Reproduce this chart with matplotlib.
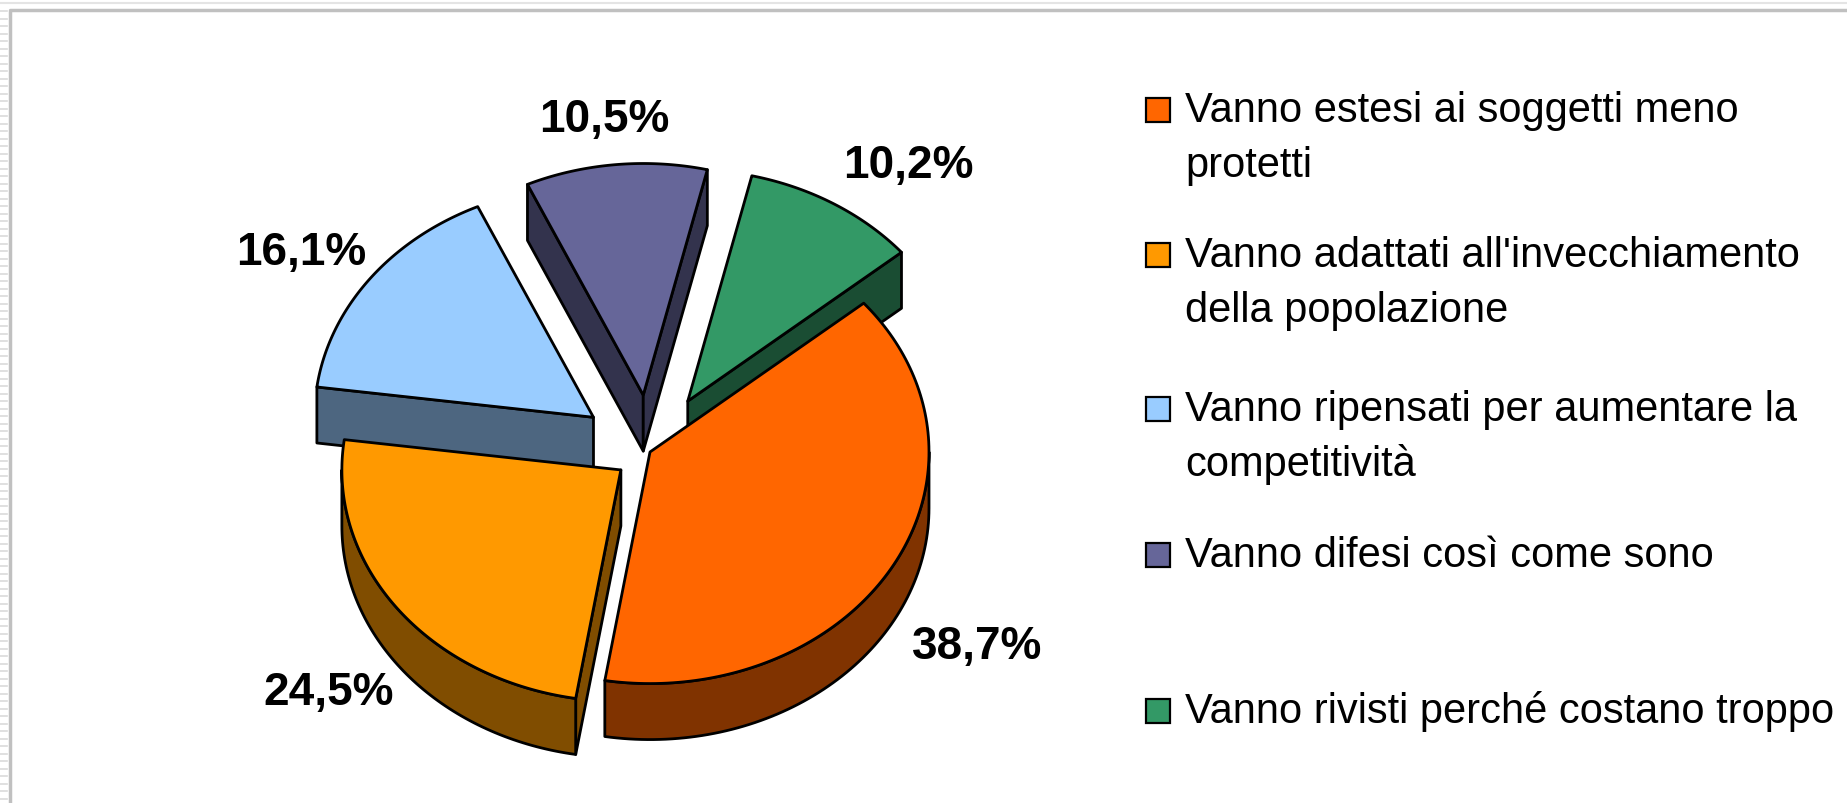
import numpy as np
import matplotlib
matplotlib.use("Agg")
import matplotlib.pyplot as plt
from matplotlib.patches import Polygon, Rectangle
from matplotlib.colors import to_rgb

# dati
labels = ["Vanno estesi ai soggetti meno\nprotetti",
          "Vanno adattati all'invecchiamento\ndella popolazione",
          "Vanno ripensati per aumentare la\ncompetitività",
          "Vanno difesi così come sono",
          "Vanno rivisti perché costano troppo"]
values = [38.7, 24.5, 16.1, 10.5, 10.2]
colors = ["#FF6600", "#FF9900", "#99CCFF", "#666699", "#339966"]
explode = [0.0, 0.13, 0.252, 0.247, 0.258]

plt.rcParams["font.family"] = ["Liberation Sans", "DejaVu Sans"]

W, H = 1847, 804
fig = plt.figure(figsize=(W / 100, H / 100), dpi=100)
ax = fig.add_axes([0, 0, 1, 1])
ax.set_xlim(0, W)
ax.set_ylim(0, H)
ax.axis("off")

# geometria della torta 3D (pixel)
cx, cy = 650, 351
R = 279
k = 0.83      # schiacciamento prospettico
h = 56        # spessore
start = 40.0
label_dx = [36, -23, -23, -6, 45]


def pt(ox, oy, t, r, z=0.0):
    t = np.radians(t)
    return cx + ox + r * np.cos(t), cy + (oy + r * np.sin(t)) * k + z


def dark(c):
    return tuple(v * 0.5 for v in to_rgb(c))


ang = start - 360 * np.concatenate([[0], np.cumsum(values)]) / 100
slices = []
for i, v in enumerate(values):
    a1, a2 = ang[i], ang[i + 1]
    m = (a1 + a2) / 2
    ox = explode[i] * R * np.cos(np.radians(m))
    oy = explode[i] * R * np.sin(np.radians(m))
    slices.append((np.sin(np.radians(m)), i, a1, a2, m, ox, oy))

edge = dict(edgecolor="black", linewidth=2.0, joinstyle="round")
for s, i, a1, a2, m, ox, oy in sorted(slices, reverse=True):
    side = dark(colors[i])
    apex_t = (cx + ox, cy + oy * k)
    apex_b = (cx + ox, cy + oy * k - h)
    # facce radiali visibili
    for a, vis in ((a1, np.cos(np.radians(a1)) < 0), (a2, np.cos(np.radians(a2)) > 0)):
        if vis:
            rt = pt(ox, oy, a, R)
            rb = pt(ox, oy, a, R, -h)
            ax.add_patch(Polygon([apex_t, rt, rb, apex_b], closed=True, facecolor=side, **edge))
    # bordo esterno visibile (parte anteriore)
    for n in (-1, 0, 1):
        lo = max(a2, -180 + 360 * n)
        hi = min(a1, 360 * n)
        if hi > lo:
            t = np.linspace(lo, hi, 80)
            xt, yt = pt(ox, oy, t, R)
            xb, yb = pt(ox, oy, t, R, -h)
            poly = np.column_stack([np.r_[xt, xb[::-1]], np.r_[yt, yb[::-1]]])
            ax.add_patch(Polygon(poly, closed=True, facecolor=side, **edge))
    # faccia superiore
    t = np.linspace(a2, a1, 120)
    xs, ys = pt(ox, oy, t, R)
    poly = np.vstack([[apex_t], np.column_stack([xs, ys])])
    ax.add_patch(Polygon(poly, closed=True, facecolor=colors[i], **edge))

# etichette percentuali
for s, i, a1, a2, m, ox, oy in slices:
    rl = explode[i] * R + 1.2 * R
    x = cx + rl * np.cos(np.radians(m)) + label_dx[i]
    y = cy + rl * k * np.sin(np.radians(m)) - (h if s < 0 else 0)
    ax.text(x, y, f"{values[i]:.1f}%".replace(".", ","), ha="center", va="center",
            fontsize=33, fontweight="bold", color="black")

# legenda
leg_y = [111, 256, 410, 556, 712]
for i, lab in enumerate(labels):
    yc = H - leg_y[i]
    ax.add_patch(Rectangle((1146, yc - 12), 24, 24, facecolor=colors[i],
                           edgecolor="black", linewidth=1.6))
    for j, line in enumerate(lab.split("\n")):
        ax.text(1185, yc - 11 - 55 * j, line, ha="left", va="baseline",
                fontsize=30, color="black")

# cornice grigia
ax.plot([9.5, 9.5, W], [0, H - 10.5, H - 10.5], color="#C0C0C0", lw=2.5,
        solid_capstyle="butt")
ax.plot([0, W], [H - 4, H - 4], color="#E4E4E4", lw=1.5)
for yy in np.arange(H - 12, 0, -7.5):
    ax.plot([0, 7], [yy, yy], color="#DADADA", lw=1.2)

fig.savefig("out.png", dpi=100, facecolor="white")
